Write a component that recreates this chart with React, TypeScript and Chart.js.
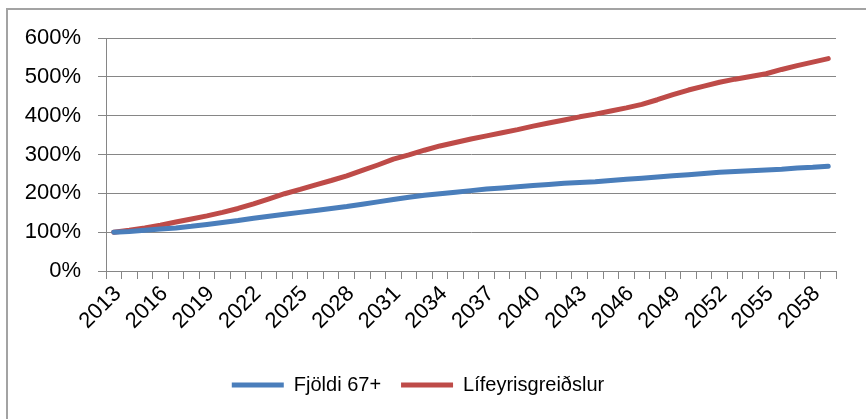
import React, { useEffect, useRef } from "react";
import { Chart, registerables } from "chart.js";

Chart.register(...registerables);

const years: string[] = [
  "2013", "2014", "2015", "2016", "2017", "2018", "2019", "2020", "2021", "2022",
  "2023", "2024", "2025", "2026", "2027", "2028", "2029", "2030", "2031", "2032",
  "2033", "2034", "2035", "2036", "2037", "2038", "2039", "2040", "2041", "2042",
  "2043", "2044", "2045", "2046", "2047", "2048", "2049", "2050", "2051", "2052",
  "2053", "2054", "2055", "2056", "2057", "2058", "2059",
];

// Fjöldi 67+ (index, % of 2013)
const fjoldi: number[] = [
  100, 102, 105, 108, 111, 115, 120, 125, 130, 136,
  141, 146, 151, 156, 161, 166, 172, 178, 184, 190,
  195, 199, 203, 207, 211, 214, 217, 220, 223, 226,
  228, 230, 233, 236, 239, 242, 245, 248, 251, 254,
  256, 258, 260, 262, 265, 267, 270,
];

// Lífeyrisgreiðslur (index, % of 2013)
const lifeyri: number[] = [
  100, 105, 111, 118, 126, 134, 142, 151, 161, 173,
  186, 199, 210, 222, 233, 245, 259, 273, 288, 299,
  311, 322, 331, 340, 348, 356, 364, 373, 381, 389,
  397, 404, 412, 420, 429, 441, 454, 466, 476, 486,
  494, 501, 508, 519, 529, 538, 547,
];

const yTicks: number[] = [0, 100, 200, 300, 400, 500, 600];

const FONT = "'Liberation Sans', Arial, sans-serif";
const GRID = "#868686";

export default function App() {
  const ref = useRef<HTMLCanvasElement | null>(null);

  useEffect(() => {
    if (!ref.current) return;
    const chart = new Chart(ref.current, {
      type: "line",
      data: {
        labels: years,
        datasets: [
          {
            label: "Fjöldi 67+",
            data: fjoldi,
            borderColor: "#4A7EBB",
            backgroundColor: "#4A7EBB",
            borderWidth: 5,
            pointRadius: 0,
            pointStyle: "line",
            borderCapStyle: "round",
            borderJoinStyle: "round",
            tension: 0,
          },
          {
            label: "Lífeyrisgreiðslur",
            data: lifeyri,
            borderColor: "#BE4B48",
            backgroundColor: "#BE4B48",
            borderWidth: 5,
            pointRadius: 0,
            pointStyle: "line",
            borderCapStyle: "round",
            borderJoinStyle: "round",
            tension: 0,
          },
        ],
      },
      options: {
        responsive: false,
        animation: false,
        devicePixelRatio: 1,
        layout: { padding: { top: 38, right: 30, left: 0, bottom: 14 } },
        plugins: {
          tooltip: { enabled: false },
          legend: {
            position: "bottom",
            labels: {
              usePointStyle: true,
              pointStyleWidth: 52,
              boxHeight: 20,
              padding: 20,
              color: "#000",
              font: { family: FONT, size: 20 },
            },
          },
        },
        scales: {
          x: {
            offset: true,
            grid: {
              offset: true,
              drawOnChartArea: false,
              drawTicks: true,
              tickLength: 8,
              color: GRID,
              lineWidth: 1,
            },
            border: { display: true, color: GRID, width: 1 },
            ticks: {
              autoSkip: false,
              maxRotation: 45,
              minRotation: 45,
              padding: 2,
              labelOffset: 4,
              color: "#000",
              font: { family: FONT, size: 22 },
              callback: (_v: any, i: number) => (i % 3 === 0 ? years[i] : ""),
            },
            afterFit: (s: any) => {
              s.height = 84;
            },
          },
          y: {
            min: 0,
            max: 600,
            afterBuildTicks: (s: any) => {
              s.ticks = yTicks.map((v) => ({ value: v }));
            },
            grid: {
              color: GRID,
              lineWidth: 1,
              drawTicks: true,
              tickLength: 8,
            },
            border: { display: true, color: GRID, width: 1 },
            ticks: {
              padding: 17,
              color: "#000",
              font: { family: FONT, size: 22 },
              callback: (v: any) => v + "%",
            },
            afterFit: (s: any) => {
              s.width = 106;
            },
          },
        },
      },
    });
    return () => chart.destroy();
  }, []);

  return (
    <div
      style={{
        position: "absolute",
        left: 0,
        top: 0,
        width: 866,
        height: 419,
        overflow: "hidden",
        background: "#fff",
      }}
    >
      <div
        style={{
          position: "absolute",
          left: 6,
          top: 8,
          width: 1000,
          height: 1000,
          borderLeft: "2px solid #a3a3a3",
          borderTop: "2px solid #a3a3a3",
        }}
      />
      <canvas
        ref={ref}
        width={866}
        height={419}
        style={{ position: "absolute", left: 0, top: 0, width: 866, height: 419 }}
      />
    </div>
  );
}
